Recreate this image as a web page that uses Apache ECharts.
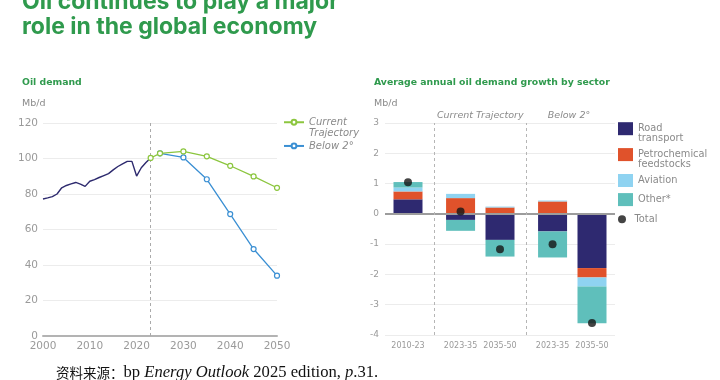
<!DOCTYPE html>
<html><head><meta charset="utf-8">
<script src="https://cdn.jsdelivr.net/npm/echarts@6/dist/echarts.min.js"></script>
<style>html,body{margin:0;padding:0;background:#fff}#c{width:720px;height:380px}</style>
</head><body><div id="c"></div>
<script>
// ---------- DATA ----------
const histYears = [2000,2001,2002,2003,2004,2005,2006,2007,2008,2009,2010,2011,2012,2013,2014,2015,2016,2017,2018,2019,2020,2021,2022,2023];
const histDemand = [77.2,77.8,78.5,80.0,83.5,84.8,85.7,86.5,85.6,84.3,87.2,88.1,89.3,90.4,91.5,93.6,95.5,97.0,98.4,98.4,90.1,94.8,97.7,100.3];
const ctYears = [2023,2025,2030,2035,2040,2045,2050];
const ctDemand = [100.3,102.9,104.0,101.2,95.9,89.9,83.5];
const b2Years = [2025,2030,2035,2040,2045,2050];
const b2Demand = [102.9,100.6,88.3,68.7,49.0,34.0];
const yearTicks = [2000,2010,2020,2030,2040,2050];

const scenarioNames = ['Current Trajectory','Below 2°'];
const periodGroups = [['2010-23'],['2023-35','2035-50'],['2023-35','2035-50']];
const roadTransport = [0.48,-0.20,-0.86,-0.58,-1.79];
const petrochemical = [0.26,0.52,0.21,0.41,-0.31];
const aviation = [0.13,0.14,0.03,0.03,-0.30];
const otherSector = [0.18,-0.36,-0.55,-0.86,-1.21];
const totalGrowth = [1.04,0.08,-1.17,-1.00,-3.60];

// ---------- LAYOUT (computed) ----------
const GREEN = '#2f9a4d';
const GRAY = '#8a8a8a';
// fine category slots: lead 3 slots, 6 within a group, 8 between groups, tail 3 slots
const LEAD = 3, WITHIN = 6, BETWEEN = 8, TAIL = 3;
const slotX = [], slotLabel = {}, sepX = [];
let pos = LEAD;
periodGroups.forEach((g, gi) => {
  if (gi > 0) { sepX.push(pos + BETWEEN / 2); pos += BETWEEN; }
  g.forEach((lab, li) => { if (li > 0) pos += WITHIN; slotX.push(pos); slotLabel[pos] = lab; });
});
const nSlots = pos + TAIL + 1;
const slotCats = Array.from({length: nSlots}, (_, i) => slotLabel[i] !== undefined ? slotLabel[i] + '#' + i : '#' + i);
const pair = (xs, ys) => xs.map((x, i) => [x, ys[i]]);

const chart = echarts.init(document.getElementById('c'), null, {renderer: 'canvas'});
const tickFont = {fontFamily: 'DejaVu Sans', color: '#9a9a9a'};
const sectorSeries = [
  ['Road transport', roadTransport, '#2e2970'],
  ['Petrochemical feedstocks', petrochemical, '#e0522b'],
  ['Aviation', aviation, '#8fd3f1'],
  ['Other*', otherSector, '#5fbfbb']
].map(([name, vals, color], i) => {
  const s = {
    name, type: 'bar', xAxisIndex: 1, yAxisIndex: 1, stack: 'sector', barWidth: 29,
    itemStyle: {color}, data: pair(slotX, vals), silent: true
  };
  if (i === 0) {
    s.markLine = {silent: true, symbol: 'none', label: {show: false},
      data: [{yAxis: 0, lineStyle: {color: '#9c9c9c', width: 2, type: 'solid'}}]
        .concat(sepX.map(x => ({xAxis: x, lineStyle: {color: '#b5b5b5', width: 1, type: [3, 3]}})))};
    s.markArea = {silent: true, itemStyle: {color: 'rgba(0,0,0,0)'},
      label: {show: true, position: 'top', distance: 2, fontFamily: 'DejaVu Sans', fontStyle: 'italic', fontSize: 9.5, color: GRAY},
      data: [[{name: scenarioNames[0], xAxis: sepX[0]}, {xAxis: sepX[1]}],
             [{name: scenarioNames[1], xAxis: sepX[1]}, {xAxis: nSlots - 1}]]};
  }
  return s;
});

const legendText = {fontFamily: 'DejaVu Sans', fontSize: 9.8, color: GRAY, lineHeight: 9.5};
function legendItem(name, left, top, opt) {
  return Object.assign({
    data: [name], left, top, orient: 'vertical', padding: 0, itemWidth: 15, itemHeight: 13, itemGap: 0,
    icon: 'rect', selectedMode: false, textStyle: legendText
  }, opt || {});
}
// first line of a two-line legend label sits level with the icon
const twoLine = n => '\n' + n.replace(' ', '\n');

const option = {
  animation: false,
  title: [
    {text: 'Oil continues to play a major\nrole in the global economy', left: 22, top: -10, padding: 0,
     textStyle: {fontFamily: 'Inter', fontWeight: 'bold', fontSize: 23, lineHeight: 25, color: GREEN}},
    {text: 'Oil demand', left: 22, top: 77, padding: 0,
     textStyle: {fontFamily: 'DejaVu Sans', fontWeight: 'bold', fontSize: 9.3, lineHeight: 12, color: GREEN}},
    {text: 'Average annual oil demand growth by sector', left: 374, top: 77, padding: 0,
     textStyle: {fontFamily: 'DejaVu Sans', fontWeight: 'bold', fontSize: 9.3, lineHeight: 12, color: GREEN}},
    {text: 'Mb/d', left: 22, top: 98, padding: 0, textStyle: {fontFamily: 'DejaVu Sans', fontWeight: 'normal', fontSize: 9.5, lineHeight: 12, color: GRAY}},
    {text: 'Mb/d', left: 374, top: 98, padding: 0, textStyle: {fontFamily: 'DejaVu Sans', fontWeight: 'normal', fontSize: 9.5, lineHeight: 12, color: GRAY}},
    {text: '{c|资料来源：}{r|bp }{i|Energy Outlook}{r| 2025 edition, }{i|p}{r|.31.}', left: 56, top: 363, padding: 0,
     textStyle: {fontWeight: 'normal', rich: {
       c: {fontFamily: 'Noto Sans CJK SC', fontWeight: 'normal', fontSize: 13.5, color: '#111', lineHeight: 19},
       r: {fontFamily: 'Liberation Serif', fontWeight: 'normal', fontSize: 16.6, color: '#111', lineHeight: 19},
       i: {fontFamily: 'Liberation Serif', fontWeight: 'normal', fontStyle: 'italic', fontSize: 16.6, color: '#111', lineHeight: 19}}}}
  ],
  legend: [
    {data: [scenarioNames[0]], left: 283, top: 106.2, padding: 0, itemWidth: 20, itemHeight: 6, selectedMode: false,
     textStyle: {fontFamily: 'DejaVu Sans', fontStyle: 'italic', fontSize: 10, lineHeight: 10.7, color: GRAY},
     formatter: twoLine},
    {data: [scenarioNames[1]], left: 283, top: 140.6, padding: 0, itemWidth: 20, itemHeight: 6, selectedMode: false,
     textStyle: {fontFamily: 'DejaVu Sans', fontStyle: 'italic', fontSize: 10, lineHeight: 10.7, color: GRAY}},
    legendItem('Road transport', 618, 114.2, {formatter: twoLine}),
    legendItem('Petrochemical feedstocks', 618, 140.1, {formatter: twoLine}),
    legendItem('Aviation', 618, 174),
    legendItem('Other*', 618, 193.1),
    legendItem('Total', 618, 214.2, {itemHeight: 8, icon: 'circle'})
  ],
  grid: [
    {left: 43, right: 443, top: 123, bottom: 44},
    {left: 385, right: 105, top: 123, bottom: 45}
  ],
  xAxis: [
    {type: 'value', gridIndex: 0, min: 2000, max: 2050, interval: 10,
     axisLine: {show: true, lineStyle: {color: '#b3b3b3', width: 2}}, axisTick: {show: false}, splitLine: {show: false},
     axisLabel: Object.assign({fontSize: 10.5, margin: 5, customValues: yearTicks, formatter: v => String(v)}, tickFont)},
    {type: 'category', gridIndex: 1, data: slotCats, boundaryGap: true,
     axisLine: {show: false}, axisTick: {show: false}, splitLine: {show: false},
     axisLabel: Object.assign({fontSize: 8, margin: 7, interval: 0, formatter: v => v.split('#')[0]}, tickFont)}
  ],
  yAxis: [
    {type: 'value', gridIndex: 0, min: 0, max: 120, interval: 20,
     axisLine: {show: false}, axisTick: {show: false},
     splitLine: {lineStyle: {color: '#ececec', width: 1}},
     axisLabel: Object.assign({fontSize: 10.5, margin: 5}, tickFont)},
    {type: 'value', gridIndex: 1, min: -4, max: 3, interval: 1,
     axisLine: {show: false}, axisTick: {show: false},
     splitLine: {lineStyle: {color: '#ececec', width: 1}},
     axisLabel: Object.assign({fontSize: 9, margin: 6}, tickFont)}
  ],
  series: [
    {name: 'History', type: 'line', xAxisIndex: 0, yAxisIndex: 0, data: pair(histYears, histDemand),
     showSymbol: false, lineStyle: {color: '#2d2a6e', width: 1.4}, silent: true, z: 3,
     markLine: {silent: true, symbol: 'none', label: {show: false},
       data: [{xAxis: histYears[histYears.length - 1], lineStyle: {color: '#aaaaaa', width: 1, type: [3, 3]}}]}},
    {name: scenarioNames[1], type: 'line', xAxisIndex: 0, yAxisIndex: 0, data: pair(b2Years, b2Demand),
     symbol: 'circle', symbolSize: 5, color: '#3a8fd3',
     itemStyle: {color: '#fff', borderColor: '#3a8fd3', borderWidth: 1.2},
     lineStyle: {color: '#3a8fd3', width: 1.3}, silent: true, z: 4},
    {name: scenarioNames[0], type: 'line', xAxisIndex: 0, yAxisIndex: 0, data: pair(ctYears, ctDemand),
     symbol: 'circle', symbolSize: 5, color: '#8cc63f',
     itemStyle: {color: '#fff', borderColor: '#8cc63f', borderWidth: 1.2},
     lineStyle: {color: '#8cc63f', width: 1.3}, silent: true, z: 5}
  ].concat(sectorSeries).concat([
    {name: 'Total', type: 'scatter', xAxisIndex: 1, yAxisIndex: 1, data: pair(slotX, totalGrowth),
     symbolSize: 8, itemStyle: {color: '#151515'}, silent: true, z: 10}
  ])
};
chart.setOption(option);
</script>
</body></html>
